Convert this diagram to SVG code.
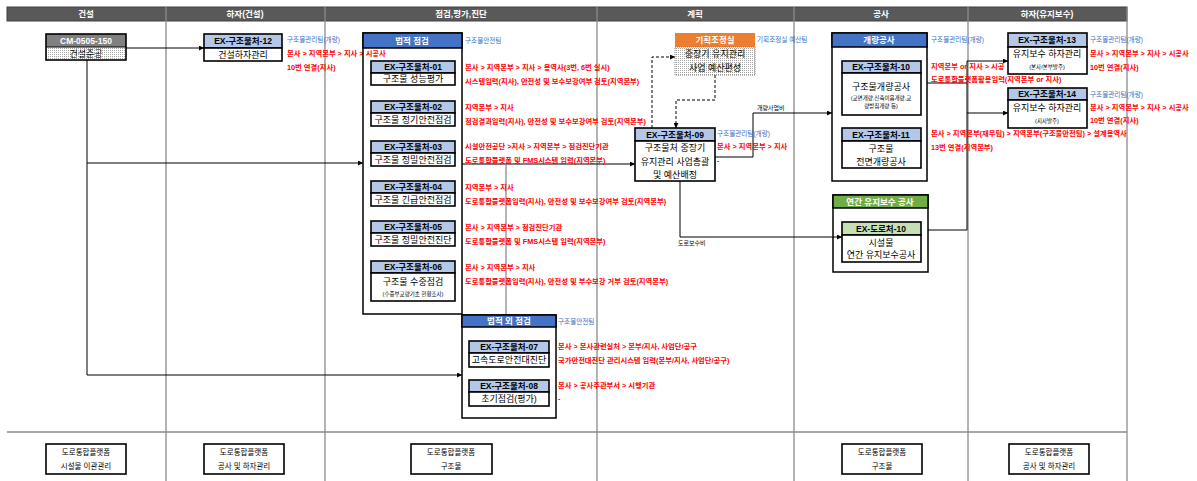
<svg xmlns="http://www.w3.org/2000/svg" width="1197" height="481" viewBox="0 0 1197 481">
<defs>
<pattern id="dots" width="2" height="2" patternUnits="userSpaceOnUse"><rect width="2" height="2" fill="#fff"/><rect width="1" height="1" fill="#a6a6a6"/></pattern>
<marker id="ar" viewBox="0 0 6 6" refX="6" refY="3" markerWidth="5" markerHeight="5" orient="auto" markerUnits="userSpaceOnUse"><path d="M0,0 L6,3 L0,6 z" fill="#000"/></marker>
<style>
text{font-family:"Liberation Sans","Noto Sans CJK KR",sans-serif}
.colt{font-size:8.5px;font-weight:bold;fill:#fff;text-anchor:middle}
.div{stroke:#8c8c8c;stroke-width:1.3;fill:none}
.box{fill:#fff;stroke:#000;stroke-width:1.6}
.frame{fill:none;stroke:#000;stroke-width:1.6}
.sec{fill:none;stroke:#000;stroke-width:1.5}
.hb{fill:#b4c7e7}
.hg{fill:#c6e0b4}
.th{font-size:8.5px;font-weight:bold;fill:#000;text-anchor:middle}
.tw{font-size:8.5px;font-weight:bold;fill:#fff;text-anchor:middle}
.tb{font-size:9px;fill:#000;text-anchor:middle}
.ts{font-size:5.5px;fill:#000;text-anchor:middle}
.lr{font-size:7.3px;font-weight:bold;fill:#ff0000}
.lb{font-size:6.6px;fill:#3a6fc4}
.lk{font-size:6px;fill:#000}
.pt{font-size:7.5px;fill:#000;text-anchor:middle}
.c{stroke:#000;stroke-width:1;fill:none}
.ca{stroke:#000;stroke-width:1;fill:none;marker-end:url(#ar)}
.cd{stroke:#000;stroke-width:1;fill:none;stroke-dasharray:3,2}
.cg{stroke:#8c8c8c;stroke-width:1.3;fill:none}
</style>
</defs>
<rect width="1197" height="481" fill="#fff"/>

<g id="lanes">
<rect x="7" y="7" width="1120" height="14" fill="#595959" stroke="#404040" stroke-width="1"/>
<text class="colt" x="86" y="17">건설</text>
<text class="colt" x="245" y="17">하자(건설)</text>
<text class="colt" x="461" y="17">점검,평가,진단</text>
<text class="colt" x="695" y="17">계획</text>
<text class="colt" x="881" y="17">공사</text>
<text class="colt" x="1047" y="17">하자(유지보수)</text>
<path class="div" d="M166,7V481 M325,7V481 M597,7V481 M794,7V481 M968,7V481 M1127,7V481 M7,432H1127"/>
</g>

<g id="connectors">
<path class="ca" d="M126,48H204"/>
<path class="c" d="M87,60V375"/>
<path class="ca" d="M87,163H363"/>
<path class="ca" d="M87,375H462"/>
<path class="ca" d="M462,164H635"/>
<path class="cg" d="M506,164V315"/>
<path class="ca" d="M715,157H753V113H832"/>
<path class="ca" d="M680,181V237H842"/>
<path class="cd" d="M652,128V57H672"/>
<path class="ca" d="M671,57H675"/>
<path class="cd" d="M715,75V100H676V124"/>
<path class="ca" d="M676,123V128"/>
<path class="c" d="M927,83H967 M928,230H967 M967,61V230"/>
<path class="ca" d="M967,61H1008"/>
<path class="ca" d="M967,113H1008"/>
<text class="lk" x="757" y="110">개량사업비</text>
<text class="lk" x="678" y="245">도로보수비</text>
</g>

<g id="cm-0505-150">
<rect x="46" y="34" width="80" height="13" fill="#808080"/>
<rect x="46" y="47" width="80" height="13" fill="url(#dots)"/>
<rect class="frame" x="46" y="34" width="80" height="26"/>
<line x1="46" y1="47" x2="126" y2="47" stroke="#000" stroke-width="1"/>
<text class="tw" x="86" y="44">CM-0505-150</text>
<text class="tb" x="86" y="57">건설준공</text>
</g>

<g id="ex-12">
<rect class="box hb" x="204" y="34" width="78" height="14"/>
<rect class="box" x="204" y="48" width="78" height="13"/>
<text class="th" x="243" y="44">EX-구조물처-12</text>
<text class="tb" x="243" y="58">건설하자관리</text>
<text class="lb" x="287" y="42">구조물관리팀(개량)</text>
<text class="lr" x="287" y="56">본사 &gt; 지역본부 &gt; 지사 &gt; 시공사</text>
<text class="lr" x="287" y="70">10번 연결(지사)</text>
</g>

<g id="legal-inspection">
<rect class="sec" x="363" y="33" width="99" height="281" fill="#fff"/>
<rect x="363" y="33" width="99" height="15" fill="#4472c4" stroke="#000" stroke-width="1.5"/>
<text class="tw" x="412" y="44">법적 점검</text>
<text class="lb" x="465" y="43">구조물안전팀</text>
</g>

<g id="ex-01">
<rect class="box hb" x="371" y="61" width="84" height="12"/>
<rect class="box" x="371" y="73" width="84" height="12"/>
<text class="th" x="413" y="70">EX-구조물처-01</text>
<text class="tb" x="413" y="82">구조물 성능평가</text>
<text class="lr" x="465" y="70">본사 &gt; 지역본부 &gt; 지사 &gt; 용역사(3번, 6번 실시)</text>
<text class="lr" x="465" y="84">시스템입력(지사), 안전성 및 보수보강여부 검토(지역본부)</text>
</g>

<g id="ex-02">
<rect class="box hb" x="371" y="101" width="84" height="12"/>
<rect class="box" x="371" y="113" width="84" height="13"/>
<text class="th" x="413" y="110">EX-구조물처-02</text>
<text class="tb" x="413" y="123">구조물 정기안전점검</text>
<text class="lr" x="465" y="110">지역본부 &gt; 지사</text>
<text class="lr" x="465" y="124">점검결과입력(지사), 안전성 및 보수보강여부 검토(지역본부)</text>
</g>

<g id="ex-03">
<rect class="box hb" x="371" y="141" width="84" height="12"/>
<rect class="box" x="371" y="153" width="84" height="13"/>
<text class="th" x="413" y="150">EX-구조물처-03</text>
<text class="tb" x="413" y="163">구조물 정밀안전점검</text>
<text class="lr" x="465" y="149">시설안전공단 &gt;지사 &gt; 지역본부 &gt; 점검진단기관</text>
<text class="lr" x="465" y="163">도로통합플랫폼 및 FMS시스템 입력(지역본부)</text>
</g>

<g id="ex-04">
<rect class="box hb" x="371" y="181" width="84" height="12"/>
<rect class="box" x="371" y="193" width="84" height="13"/>
<text class="th" x="413" y="190">EX-구조물처-04</text>
<text class="tb" x="413" y="203">구조물 긴급안전점검</text>
<text class="lr" x="465" y="190">지역본부 &gt; 지사</text>
<text class="lr" x="465" y="204">도로통합플랫폼입력(지사), 안전성 및 보수보강여부 검토(지역본부)</text>
</g>

<g id="ex-05">
<rect class="box hb" x="371" y="221" width="84" height="12"/>
<rect class="box" x="371" y="233" width="84" height="13"/>
<text class="th" x="413" y="230">EX-구조물처-05</text>
<text class="tb" x="413" y="243">구조물 정밀안전진단</text>
<text class="lr" x="465" y="230">본사 &gt; 지역본부 &gt; 점검진단기관</text>
<text class="lr" x="465" y="244">도로통합플랫폼 및 FMS시스템 입력(지역본부)</text>
</g>

<g id="ex-06">
<rect class="box hb" x="371" y="261" width="84" height="12"/>
<rect class="box" x="371" y="273" width="84" height="28"/>
<text class="th" x="413" y="270">EX-구조물처-06</text>
<text class="tb" x="413" y="285">구조물 수중점검</text>
<text class="ts" x="413" y="296">(수중부교량기초 현황조사)</text>
<text class="lr" x="465" y="270">본사 &gt; 지역본부 &gt; 지사</text>
<text class="lr" x="465" y="284">도로통합플랫폼입력(지사), 안전성 및 부수보강 거부 검토(지역본부)</text>
</g>

<g id="non-legal-inspection">
<rect class="sec" x="462" y="315" width="94" height="103" fill="#fff"/>
<rect x="462" y="315" width="94" height="12" fill="#4472c4" stroke="#000" stroke-width="1.5"/>
<text class="tw" x="509" y="324">법적 외 점검</text>
<text class="lb" x="558" y="324">구조물안전팀</text>
</g>

<g id="ex-07">
<rect class="box hb" x="469" y="341" width="80" height="12"/>
<rect class="box" x="469" y="353" width="80" height="14"/>
<text class="th" x="509" y="350">EX-구조물처-07</text>
<text class="tb" x="509" y="363">고속도로안전대진단</text>
<text class="lr" x="558" y="349">본사 &gt; 본사관련실처 &gt; 본부/지사, 사업단/공구</text>
<text class="lr" x="558" y="363">국가안전대진단 관리시스템 입력(본부/지사, 사업단/공구)</text>
</g>

<g id="ex-08">
<rect class="box hb" x="469" y="380" width="80" height="12"/>
<rect class="box" x="469" y="392" width="80" height="14"/>
<text class="th" x="509" y="389">EX-구조물처-08</text>
<text class="tb" x="509" y="402">초기점검(평가)</text>
<text class="lr" x="558" y="388">본사 &gt; 공사주관부서 &gt; 시행기관</text>
<text class="lr" x="558" y="401">-</text>
</g>

<g id="planning">
<rect x="675" y="33" width="80" height="14" fill="#ed7d31"/>
<rect x="675" y="47" width="80" height="28" fill="url(#dots)" stroke="#7f7f7f" stroke-width="1" stroke-dasharray="1,1"/>
<text class="tw" x="715" y="43">기획조정실</text>
<text class="tb" x="715" y="57">중장기 유지관리</text>
<text class="tb" x="715" y="71">사업 예산편성</text>
<text class="lb" x="757" y="42">기획조정실 예산팀</text>
</g>

<g id="ex-09">
<rect class="box hb" x="635" y="128" width="80" height="13"/>
<rect class="box" x="635" y="141" width="80" height="40"/>
<text class="th" x="675" y="138">EX-구조물처-09</text>
<text class="tb" x="675" y="151">구조물처 중장기</text>
<text class="tb" x="675" y="165">유지관리 사업총괄</text>
<text class="tb" x="675" y="178">및 예산배정</text>
<text class="lb" x="717" y="136">구조물관리팀(개량)</text>
<text class="lr" x="717" y="149">본사 &gt; 지역본부 &gt; 지사</text>
<text class="lr" x="717" y="163">-</text>
</g>

<g id="improvement">
<rect class="sec" x="832" y="33" width="95" height="148" fill="#fff"/>
<rect x="832" y="33" width="95" height="14" fill="#4472c4" stroke="#000" stroke-width="1.5"/>
<text class="tw" x="879" y="43">개량공사</text>
<text class="lb" x="931" y="42">구조물관리팀(개량)</text>
</g>

<g id="ex-10">
<rect class="box hb" x="842" y="61" width="79" height="12"/>
<rect class="box" x="842" y="73" width="79" height="42"/>
<text class="th" x="881" y="70">EX-구조물처-10</text>
<text class="tb" x="881" y="90">구조물개량공사</text>
<text class="ts" x="881" y="100">(교면개량,신축이음개량,교</text>
<text class="ts" x="881" y="108">량받침개량 등)</text>
<text class="lr" x="931" y="69">지역본부 or 지사 &gt; 시공</text>
<text class="lr" x="931" y="82">도로통합플랫폼활용입력(지역본부 or 지사)</text>
</g>

<g id="ex-11">
<rect class="box hb" x="842" y="128" width="79" height="13"/>
<rect class="box" x="842" y="141" width="79" height="27"/>
<text class="th" x="881" y="138">EX-구조물처-11</text>
<text class="tb" x="881" y="152">구조물</text>
<text class="tb" x="881" y="165">전면개량공사</text>
<text class="lr" x="931" y="136">본사 &gt; 지역본부(재무팀) &gt; 지역본부(구조물안전팀) &gt; 설계용역사</text>
<text class="lr" x="931" y="150">13번 연결(지역본부)</text>
</g>

<g id="annual-maintenance">
<rect class="sec" x="833" y="195" width="95" height="77" fill="#fff"/>
<rect x="833" y="195" width="95" height="13" fill="#70ad47" stroke="#000" stroke-width="1.5"/>
<text class="tw" x="880" y="205">연간 유지보수 공사</text>
</g>

<g id="ex-road-10">
<rect class="box hg" x="842" y="222" width="79" height="13"/>
<rect class="box" x="842" y="235" width="79" height="27"/>
<text class="th" x="881" y="232">EX-도로처-10</text>
<text class="tb" x="881" y="246">시설물</text>
<text class="tb" x="881" y="258">연간 유지보수공사</text>
</g>

<g id="ex-13">
<rect class="box hb" x="1008" y="33" width="79" height="14"/>
<rect class="box" x="1008" y="47" width="79" height="27"/>
<text class="th" x="1047" y="43">EX-구조물처-13</text>
<text class="tb" x="1047" y="57">유지보수 하자관리</text>
<text class="ts" x="1047" y="69">(본사/본부발주)</text>
<text class="lb" x="1090" y="42">구조물관리팀(개량)</text>
<text class="lr" x="1090" y="56">본사 &gt; 지역본부 &gt; 지사 &gt; 시공사</text>
<text class="lr" x="1090" y="70">10번 연결(지사)</text>
</g>

<g id="ex-14">
<rect class="box hb" x="1008" y="88" width="79" height="12"/>
<rect class="box" x="1008" y="100" width="79" height="28"/>
<text class="th" x="1047" y="97">EX-구조물처-14</text>
<text class="tb" x="1047" y="111">유지보수 하자관리</text>
<text class="ts" x="1047" y="123">(지사발주)</text>
<text class="lb" x="1090" y="97">구조물관리팀(개량)</text>
<text class="lr" x="1090" y="110">본사 &gt; 지역본부 &gt; 지사 &gt; 시공사</text>
<text class="lr" x="1090" y="123">10번 연결(지사)</text>
</g>

<g id="platform-1">
<rect class="box" x="46" y="444" width="80" height="30"/>
<text class="pt" x="86" y="455">도로통합플랫폼</text>
<text class="pt" x="86" y="469">시설물 이관관리</text>
</g>
<g id="platform-2">
<rect class="box" x="204" y="444" width="80" height="30"/>
<text class="pt" x="244" y="455">도로통합플랫폼</text>
<text class="pt" x="244" y="469">공사 및 하자관리</text>
</g>
<g id="platform-3">
<rect class="box" x="411" y="444" width="81" height="30"/>
<text class="pt" x="451" y="455">도로통합플랫폼</text>
<text class="pt" x="451" y="469">구조물</text>
</g>
<g id="platform-4">
<rect class="box" x="842" y="444" width="80" height="30"/>
<text class="pt" x="882" y="455">도로통합플랫폼</text>
<text class="pt" x="882" y="469">구조물</text>
</g>
<g id="platform-5">
<rect class="box" x="1009" y="444" width="80" height="30"/>
<text class="pt" x="1049" y="455">도로통합플랫폼</text>
<text class="pt" x="1049" y="469">공사 및 하자관리</text>
</g>
</svg>
